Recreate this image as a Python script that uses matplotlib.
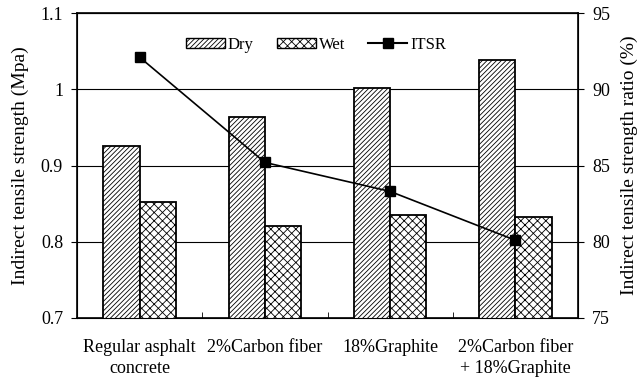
import numpy as np
import matplotlib
matplotlib.use('Agg')
import matplotlib.pyplot as plt
from matplotlib.lines import Line2D
from matplotlib.patches import Patch

categories = ['Regular asphalt\nconcrete', '2%Carbon fiber', '18%Graphite',
              '2%Carbon fiber\n+ 18%Graphite']
dry = [0.925, 0.963, 1.002, 1.039]
wet = [0.852, 0.821, 0.835, 0.832]
itsr = [92.1, 85.2, 83.3, 80.1]

plt.rcParams['font.family'] = 'Liberation Serif'
plt.rcParams['font.size'] = 13
plt.rcParams['hatch.linewidth'] = 0.6

fig = plt.figure(figsize=(6.41, 3.83), dpi=100)
ax = fig.add_axes([77/641, 1-318/383, (578-77)/641, (318-13)/383])

x = np.arange(len(categories))
bw = 0.29
ax.bar(x - bw/2, dry, bw, color='white', edgecolor='black',
       hatch='///////', linewidth=1.3, zorder=3)
ax.bar(x + bw/2, wet, bw, color='white', edgecolor='black',
       hatch='xxxx', linewidth=1.3, zorder=3)
ax.set_ylim(0.7, 1.1)
ax.set_xlim(-0.5, 3.5)
ax.set_yticks([0.7, 0.8, 0.9, 1.0, 1.1])
ax.set_yticklabels(['0.7', '0.8', '0.9', '1', '1.1'])
ax.yaxis.grid(True, color='black', linewidth=0.8, zorder=0)
ax.set_axisbelow(True)
ax.set_xticks(x)
ax.set_xticklabels(categories, linespacing=1.35)
ax.set_xticks([0.5, 1.5, 2.5], minor=True)
ax.tick_params(axis='x', which='major', length=0, pad=15)
ax.tick_params(axis='x', which='minor', direction='in', length=4)
ax.tick_params(axis='y', length=4, direction='out', pad=6)
ax.set_ylabel('Indirect tensile strength (Mpa)', fontsize=14, labelpad=8)
for s in ax.spines.values():
    s.set_linewidth(1.2)

ax2 = ax.twinx()
ax2.plot(x, itsr, color='black', marker='s', markersize=7, linewidth=1.2, zorder=5)
ax2.set_ylim(75, 95)
ax2.set_yticks([75, 80, 85, 90, 95])
ax2.tick_params(axis='y', length=4, direction='out', pad=6)
ax2.set_ylabel('Indirect tensile strength ratio (%)', fontsize=14, labelpad=8)

handles = [Patch(facecolor='white', edgecolor='black', hatch='///////'),
           Patch(facecolor='white', edgecolor='black', hatch='xxxx'),
           Line2D([], [], color='black', marker='s', markersize=7)]
ax.legend(handles, ['Dry', 'Wet', 'ITSR'], loc='center', ncol=3,
          frameon=False, bbox_to_anchor=(0.477, 1 - 32/305), handlelength=2.35,
          handleheight=0.6, columnspacing=1.4, handletextpad=0.15, fontsize=12)

fig.savefig('out.png', dpi=100)
